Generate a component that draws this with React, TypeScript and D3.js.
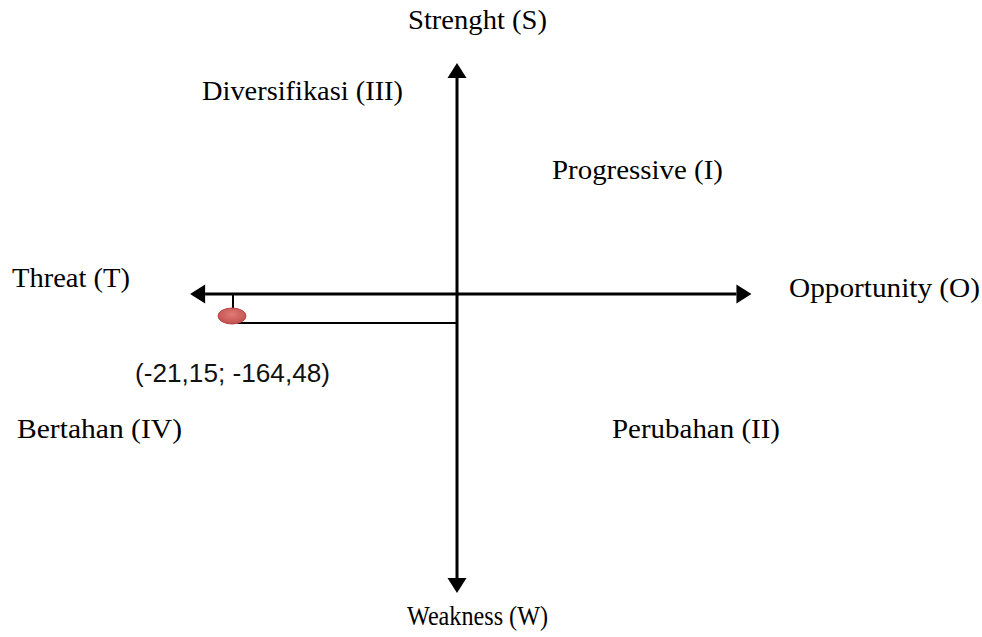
import React from "react";
import * as d3 from "d3";

// Data
const pointLabel = "(-21,15; -164,48)";
const pointX = [-21.15];
const pointY = [-164.48];
const xAxisExtent = [-25.2, 27.8];
const yAxisExtent = [-1696, 1310];
const axisLabels = ["Strenght (S)", "Weakness (W)", "Threat (T)", "Opportunity (O)"];
const quadrantLabels = ["Progressive (I)", "Perubahan (II)", "Diversifikasi (III)", "Bertahan (IV)"];

const W = 982;
const H = 637;

export default function App() {
  const x = d3.scaleLinear().domain([pointX[0], 0]).range([233, 457]);
  const y = d3.scaleLinear().domain([pointY[0], 0]).range([323, 294]);
  const x0 = x(0);
  const y0 = y(0);
  const xl = x(xAxisExtent[0]);
  const xr = x(xAxisExtent[1]);
  const yt = y(yAxisExtent[1]);
  const yb = y(yAxisExtent[0]);
  const aL = 15;
  const aW = 9.5;
  const line = d3.line();

  const serif = "'Liberation Serif', 'Times New Roman', serif";
  const txt = (s: string, tx: number, ty: number, len: number) => (
    <text
      key={s}
      x={tx}
      y={ty}
      fontFamily={serif}
      fontSize={27}
      textLength={len}
      lengthAdjust="spacingAndGlyphs"
      fill="#000"
    >
      {s}
    </text>
  );

  const px = x(pointX[0]);
  const py = y(pointY[0]);

  return (
    <svg
      width={W}
      height={H}
      style={{ position: "absolute", left: 0, top: 0, background: "#fff" }}
    >
      <defs>
        <radialGradient id="pt" cx="50%" cy="40%" r="60%">
          <stop offset="0%" stopColor="#e27a76" />
          <stop offset="100%" stopColor="#c0504d" />
        </radialGradient>
      </defs>
      <rect width={W} height={H} fill="#fff" />
      {/* axes */}
      <path d={line([[xl + aL, y0], [xr - aL, y0]]) || ""} stroke="#000" strokeWidth={3} />
      <path d={line([[x0, yt + aL], [x0, yb - aL]]) || ""} stroke="#000" strokeWidth={3} />
      {/* arrow heads */}
      <path d={`M${xl},${y0}L${xl + aL},${y0 - aW}L${xl + aL},${y0 + aW}Z`} fill="#000" />
      <path d={`M${xr},${y0}L${xr - aL},${y0 - aW}L${xr - aL},${y0 + aW}Z`} fill="#000" />
      <path d={`M${x0},${yt}L${x0 - aW},${yt + aL}L${x0 + aW},${yt + aL}Z`} fill="#000" />
      <path d={`M${x0},${yb}L${x0 - aW},${yb - aL}L${x0 + aW},${yb - aL}Z`} fill="#000" />
      {/* point guides */}
      <path d={line([[px, y0], [px, py - 14]]) || ""} stroke="#000" strokeWidth={2} fill="none" />
      <path d={line([[px, py], [x0, py]]) || ""} stroke="#000" strokeWidth={2} fill="none" />
      <ellipse cx={px - 1} cy={py - 7} rx={14} ry={8} fill="url(#pt)" stroke="#b8474a" strokeWidth={1} />
      {/* labels */}
      {txt(axisLabels[0], 408, 29, 139)}
      {txt(axisLabels[1], 407, 625, 141)}
      {txt(axisLabels[2], 12, 287, 118)}
      {txt(axisLabels[3], 789, 297, 191)}
      {txt(quadrantLabels[0], 552, 179, 171)}
      {txt(quadrantLabels[1], 612, 438, 168)}
      {txt(quadrantLabels[2], 202, 100, 201)}
      {txt(quadrantLabels[3], 17, 438, 165)}
      <text
        x={135}
        y={382}
        fontFamily="'Liberation Sans', Arial, sans-serif"
        fontSize={25}
        textLength={195}
        lengthAdjust="spacingAndGlyphs"
        fill="#111"
      >
        {pointLabel}
      </text>
    </svg>
  );
}
